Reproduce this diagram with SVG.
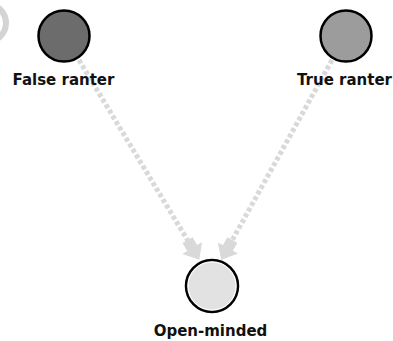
<svg xmlns="http://www.w3.org/2000/svg" width="393" height="341" viewBox="0 0 393 341">
<defs>
<style>
.node{stroke:#000;stroke-width:2.5}
.inner{fill:none;stroke:#fff;stroke-width:1}
.lbl{font-family:"DejaVu Sans",Verdana,sans-serif;font-weight:bold;font-size:15px;fill:#111;text-anchor:middle}
.edge{fill:none;stroke:#d9d9d9;stroke-width:5;stroke-dasharray:4 2.5}
</style>
<marker id="ah" viewBox="0 0 10 10" refX="3" refY="5" markerWidth="4.6" markerHeight="4.6" orient="auto" markerUnits="strokeWidth">
<path d="M0,2.5 L4,2.5 L4,0 L10,5 L4,10 L4,7.5 L0,7.5 Z" fill="#d9d9d9"/>
</marker>
</defs>
<rect width="393" height="341" fill="#fff"/>
<circle cx="-13" cy="23" r="19" fill="none" stroke="#d4d4d4" stroke-width="6"/>
<g id="connectors">
<path class="edge" d="M79,60 L191,246" marker-end="url(#ah)"/>
<path class="edge" d="M332,60 L229,246" marker-end="url(#ah)"/>
</g>
<g id="false-ranter">
<circle class="node" cx="64" cy="36" r="25.5" fill="#6c6c6c"/>
<text class="lbl" x="63.5" y="85">False ranter</text>
</g>
<g id="true-ranter">
<circle class="node" cx="346" cy="36" r="25.5" fill="#9c9c9c"/>
<text class="lbl" x="344.5" y="85">True ranter</text>
</g>
<g id="open-minded">
<circle class="node" cx="212" cy="286" r="26" fill="#e2e2e2"/>
<circle class="inner" cx="212" cy="286" r="24"/>
<text class="lbl" x="210.5" y="336">Open-minded</text>
</g>
</svg>
